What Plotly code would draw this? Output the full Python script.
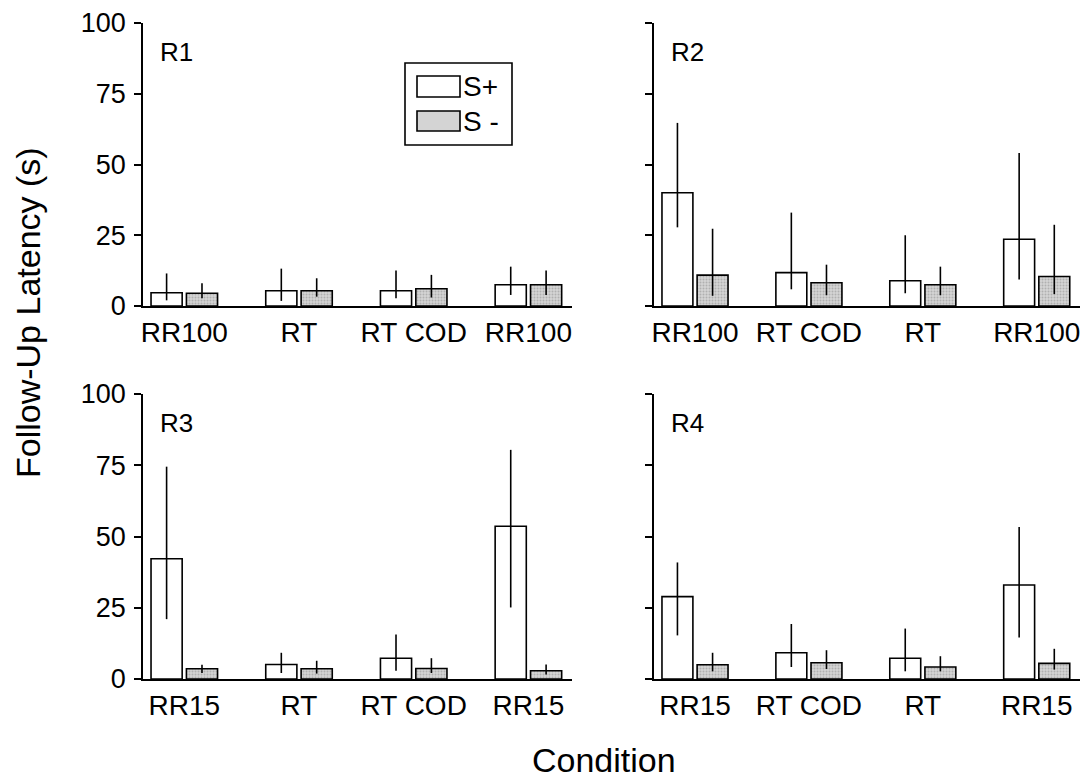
import plotly.graph_objects as go
from plotly.subplots import make_subplots

# ---- data ----
panels = ["R1", "R2", "R3", "R4"]
conditions = {
    "R1": ["RR100", "RT", "RT COD", "RR100"],
    "R2": ["RR100", "RT COD", "RT", "RR100"],
    "R3": ["RR15", "RT", "RT COD", "RR15"],
    "R4": ["RR15", "RT COD", "RT", "RR15"],
}
s_plus = {
    "R1": [4.7, 5.4, 5.4, 7.5],
    "R2": [40.0, 11.8, 8.9, 23.6],
    "R3": [42.2, 5.1, 7.3, 53.6],
    "R4": [28.9, 9.2, 7.3, 33.0],
}
s_plus_hi = {
    "R1": [11.5, 13.2, 12.5, 13.9],
    "R2": [64.7, 33.0, 25.0, 54.1],
    "R3": [74.5, 9.2, 15.6, 80.4],
    "R4": [40.9, 19.3, 17.7, 53.3],
}
s_plus_lo = {
    "R1": [2.0, 1.8, 2.7, 3.9],
    "R2": [27.8, 5.9, 4.5, 9.4],
    "R3": [21.0, 2.1, 2.9, 25.1],
    "R4": [15.3, 4.2, 2.7, 14.6],
}
s_minus = {
    "R1": [4.5, 5.4, 6.1, 7.5],
    "R2": [10.9, 8.2, 7.5, 10.4],
    "R3": [3.6, 3.6, 3.7, 2.9],
    "R4": [5.0, 5.7, 4.2, 5.5],
}
s_minus_hi = {
    "R1": [8.0, 9.8, 11.0, 12.5],
    "R2": [27.3, 14.6, 13.9, 28.7],
    "R3": [5.0, 6.4, 7.3, 5.1],
    "R4": [9.2, 10.1, 8.0, 10.6],
}
s_minus_lo = {
    "R1": [2.7, 3.3, 3.0, 3.9],
    "R2": [3.6, 3.8, 3.8, 4.2],
    "R3": [2.1, 1.9, 2.1, 1.6],
    "R4": [2.7, 3.5, 2.7, 3.3],
}
y_ticks = [0, 25, 50, 75, 100]
series_names = ["S+", "S -"]

FONT = "Liberation Sans, Arial, sans-serif"
W, H = 1091, 780
GRAY = "#d4d4d4"

fig = make_subplots(rows=2, cols=2)

pos = {"R1": (1, 1), "R2": (1, 2), "R3": (2, 1), "R4": (2, 2)}
for i, p in enumerate(panels):
    r, c = pos[p]
    xs = list(range(len(conditions[p])))
    up = [h - v for h, v in zip(s_plus_hi[p], s_plus[p])]
    um = [v - l for v, l in zip(s_plus[p], s_plus_lo[p])]
    dp = [h - v for h, v in zip(s_minus_hi[p], s_minus[p])]
    dm = [v - l for v, l in zip(s_minus[p], s_minus_lo[p])]
    fig.add_trace(go.Bar(
        x=xs, y=s_plus[p], name=series_names[0], showlegend=False,
        marker=dict(color="white", line=dict(color="black", width=1.6)),
        error_y=dict(type="data", symmetric=False, array=up, arrayminus=um,
                     width=0, thickness=1.6, color="black"),
    ), row=r, col=c)
    fig.add_trace(go.Bar(
        x=xs, y=s_minus[p], name=series_names[1], showlegend=False,
        marker=dict(color=GRAY, line=dict(color="black", width=1.6),
                    pattern=dict(shape=".", fgcolor="#8c8c8c", size=3, solidity=0.35)),
        error_y=dict(type="data", symmetric=False, array=dp, arrayminus=dm,
                     width=0, thickness=1.6, color="black"),
    ), row=r, col=c)

# domains in pixels
xdom = {1: (143, 572), 2: (654, 1080)}
ydom = {1: (23, 306), 2: (394, 679)}

for p in panels:
    r, c = pos[p]
    idx = (r - 1) * 2 + c
    xa = "xaxis" if idx == 1 else f"xaxis{idx}"
    ya = "yaxis" if idx == 1 else f"yaxis{idx}"
    x0, x1 = xdom[c]
    y0, y1 = ydom[r]
    fig.layout[xa].update(
        domain=[x0 / W, x1 / W],
        range=[-0.36, 3.38],
        tickmode="array", tickvals=list(range(4)), ticktext=conditions[p],
        showline=True, linecolor="black", linewidth=1.6,
        ticks="", showgrid=False, zeroline=False,
        tickfont=dict(family=FONT, size=28, color="black"),
        ticklabelstandoff=1,
    )
    fig.layout[ya].update(
        domain=[1 - y1 / H, 1 - y0 / H],
        range=[0, 100],
        tickmode="array", tickvals=y_ticks,
        showticklabels=(c == 1),
        showline=True, linecolor="black", linewidth=1.6,
        ticks="outside", ticklen=7, tickwidth=1.6, tickcolor="black",
        showgrid=False, zeroline=False,
        tickfont=dict(family=FONT, size=27, color="black"),
        ticklabelstandoff=3,
    )
    fig.add_annotation(
        x=(x0 + 15) / W, y=1 - (y0 + 29) / H, xref="paper", yref="paper",
        text=p, showarrow=False, xanchor="left", yanchor="middle",
        font=dict(family=FONT, size=26, color="black"),
    )

# legend drawn as a boxed key (top-left panel)
fig.add_shape(type="rect", xref="paper", yref="paper",
              x0=405 / W, x1=512 / W, y0=1 - 145 / H, y1=1 - 63 / H,
              line=dict(color="black", width=1.6), fillcolor="white")
key_rows = [(76, 97, "white"), (111, 131, GRAY)]
for (ya0, ya1, col), name in zip(key_rows, series_names):
    fig.add_shape(type="rect", xref="paper", yref="paper",
                  x0=417 / W, x1=460 / W, y0=1 - ya1 / H, y1=1 - ya0 / H,
                  line=dict(color="black", width=1.6), fillcolor=col)
    fig.add_annotation(
        x=461 / W, y=1 - (ya0 + ya1) / 2 / H, xref="paper", yref="paper",
        text=name, showarrow=False, xanchor="left", yanchor="middle",
        font=dict(family=FONT, size=28, color="black"),
    )

fig.add_annotation(
    x=604 / W, y=1 - 760 / H, xref="paper", yref="paper", text="Condition",
    showarrow=False, xanchor="center", yanchor="middle",
    font=dict(family=FONT, size=34, color="black"),
)
fig.add_annotation(
    x=28 / W, y=1 - 313 / H, xref="paper", yref="paper", text="Follow-Up Latency (s)",
    showarrow=False, xanchor="center", yanchor="middle", textangle=-90,
    font=dict(family=FONT, size=34, color="black"),
)

fig.update_layout(
    width=W, height=H,
    margin=dict(l=0, r=0, t=0, b=0, pad=0, autoexpand=False),
    paper_bgcolor="white", plot_bgcolor="white",
    barmode="group", bargap=0.383, bargroupgap=0.12,
    showlegend=False,
)

fig.write_html("out.html")
